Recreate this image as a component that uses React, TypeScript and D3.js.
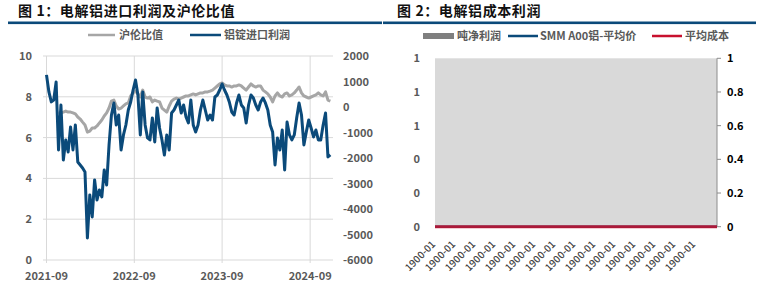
import React from "react";
import * as d3 from "d3";

// ---------- Chart 1 data (10-day samples from 2021-09-01) ----------
const startDate = "2021-09-01";
const stepDays = 10;
const importProfit = [
  1260, 590, 200, 275, 980, -1685, 80, -2077, -1293, -1763,
  -783, -1685, -705, -2155, -2273, -2390, -2547, -5134, -3449, -4311,
  -2861, -3645, -3253, -3527, -2469, -3057, -1489, -313, 158, -705,
  -313, -1685, -1097, -705, -117, 197, 667, 1059, 471, -1097,
  589, -705, -1214, -1293, -430, -1371, -38, -822, -1293, -1881,
  -1097, -1685, -234, -117, 79, 275, -234, 79, -391, -626,
  275, -705, -979, -705, -117, 275, -117, -509, -313, -509,
  393, 471, 667, 902, 667, 471, 197, -195, -313, 158,
  471, 79, -38, -626, 79, 471, 354, 79, -117, 197,
  354, 158, -117, -705, -979, -2273, -1214, -1685, -901, -2469,
  -587, -1097, -1293, -1097, -430, 158, -313, -1489, -979, -509,
  -822, -1175, -901, -1293, -1293, -705, -234, -1959, -1881,
];
const ratioStartIndex = 5;
const shLmeRatio = [
  7.25, 7.21, 7.25, 7.3, 7.25, 7.25, 7.21, 7.16, 7.01, 6.91,
  6.76, 6.62, 6.27, 6.32, 6.47, 6.47, 6.57, 6.72, 6.86, 7.06,
  7.21, 7.45, 7.79, 7.84, 7.55, 7.4, 7.45, 7.55, 7.65, 7.7,
  8.04, 8.19, 8.28, 8.14, 7.99, 8.33, 7.99, 7.94, 7.99, 7.75,
  7.84, 7.79, 7.75, 7.45, 7.35, 7.25, 7.55, 7.79, 7.89, 7.94,
  7.89, 7.94, 7.99, 8.04, 8.04, 8.09, 8.14, 8.09, 8.14, 8.19,
  8.19, 8.24, 8.24, 8.28, 8.33, 8.43, 8.53, 8.63, 8.68, 8.58,
  8.53, 8.53, 8.48, 8.53, 8.53, 8.58, 8.53, 8.43, 8.33, 8.48,
  8.63, 8.53, 8.48, 8.53, 8.53, 8.33, 8.24, 8.14, 7.99, 7.75,
  8.04, 8.19, 8.04, 7.99, 8.14, 8.19, 8.04, 8.09, 8.19, 8.33,
  8.48, 8.19, 8.04, 7.99, 7.94, 7.99, 8.04, 8.09, 8.19, 8.09,
  8.04, 8.24, 7.84, 7.79,
];
const yearTickLabels = ["2021-09", "2022-09", "2023-09", "2024-09"];
const ratioTicks = [0, 2, 4, 6, 8, 10];
const profitTicks = [-6000, -5000, -4000, -3000, -2000, -1000, 0, 1000, 2000];

// ---------- Chart 2 data ----------
const rightCategories = [
  "1900-01", "1900-01", "1900-01", "1900-01", "1900-01", "1900-01", "1900-01",
  "1900-01", "1900-01", "1900-01", "1900-01", "1900-01", "1900-01", "1900-01",
];
const netProfit = [0, 0, 0, 0, 0, 0, 0, 0, 0, 0, 0, 0, 0, 0];
const smmPrice = [0, 0, 0, 0, 0, 0, 0, 0, 0, 0, 0, 0, 0, 0];
const avgCost = [0, 0, 0, 0, 0, 0, 0, 0, 0, 0, 0, 0, 0, 0];
const rightTicks = [0, 0.2, 0.4, 0.6, 0.8, 1];

const FONT = "'Noto Sans CJK SC', 'Open Sans', sans-serif";
const BLUE = "#0b4a7a";
const GRAY = "#a6a6a6";
const GRID = "#d9d9d9";
const LABEL = "#595959";
const RED = "#c8102e";

export default function App() {
  const parse = d3.timeParse("%Y-%m-%d");
  const d0 = parse(startDate) as Date;
  const dates = importProfit.map((_, i) => d3.timeDay.offset(d0, i * stepDays));
  const x = d3
    .scaleTime()
    .domain([d0, parse("2024-12-05") as Date])
    .range([46.5, 333]);
  const yL = d3.scaleLinear().domain([0, 10]).range([260, 56]);
  const yR = d3.scaleLinear().domain([-6000, 2000]).range([260, 56]);
  const yearDates = yearTickLabels.map((s) => d3.timeParse("%Y-%m")(s) as Date);

  const profitLine = d3
    .line<number>()
    .x((_, i) => x(dates[i]))
    .y((v) => yR(v));
  const ratioLine = d3
    .line<number>()
    .x((_, i) => x(dates[i + ratioStartIndex]))
    .y((v) => yL(v));

  const xr = d3
    .scalePoint<number>()
    .domain(rightCategories.map((_, i) => i))
    .range([436, 696]);
  const xrLine = d3
    .scaleLinear()
    .domain([0, rightCategories.length - 1])
    .range([435, 717]);
  const y2 = d3.scaleLinear().domain([0, 1]).range([226.7, 58.3]);
  const fmt0 = d3.format(".0f");
  const lineR = d3
    .line<number>()
    .x((_, i) => xrLine(i))
    .y((v) => y2(v));

  return (
    <div style={{ position: "absolute", left: 0, top: 0 }}>
      <svg width={766} height={290} style={{ display: "block", background: "#fff" }} fontFamily={FONT}>
        {/* ===== Chart 1 ===== */}
        <text x={18} y={16} fontSize={14} fontWeight={700} fill="#111" letterSpacing={0.6}>
          图 1：电解铝进口利润及沪伦比值
        </text>
        <rect x={8} y={21.5} width={374} height={2.6} fill={BLUE} />

        <line x1={88} x2={115} y1={35} y2={35} stroke={GRAY} strokeWidth={2.5} />
        <text x={119} y={39} fontSize={11} fontWeight={700} fill={LABEL}>沪伦比值</text>
        <line x1={190} x2={221} y1={35} y2={35} stroke={BLUE} strokeWidth={2.5} />
        <text x={224} y={39} fontSize={11} fontWeight={700} fill={LABEL}>铝锭进口利润</text>

        {ratioTicks.map((t) => (
          <line key={"h" + t} x1={43} x2={333} y1={yL(t)} y2={yL(t)} stroke={GRID} strokeWidth={1} />
        ))}
        {yearDates.map((d, i) => (
          <line key={"v" + i} x1={x(d)} x2={x(d)} y1={56} y2={263} stroke={GRID} strokeWidth={1} />
        ))}

        {ratioTicks.map((t) => (
          <text key={"l" + t} x={32} y={yL(t) + 4} fontSize={11} fontWeight={700} fill={LABEL} textAnchor="end">
            {t}
          </text>
        ))}
        {profitTicks.map((t) => (
          <text key={"r" + t} x={343} y={yR(t) + 4} fontSize={11} fontWeight={700} fill={LABEL}>
            {t}
          </text>
        ))}
        {yearDates.map((d, i) => (
          <text key={"x" + i} x={x(d)} y={280} fontSize={11} fontWeight={700} fill={LABEL} textAnchor="middle">
            {yearTickLabels[i]}
          </text>
        ))}

        <path d={ratioLine(shLmeRatio) || ""} fill="none" stroke={GRAY} strokeWidth={3} strokeLinejoin="round" />
        <path d={profitLine(importProfit) || ""} fill="none" stroke={BLUE} strokeWidth={3} strokeLinejoin="round" />

        {/* ===== Chart 2 ===== */}
        <text x={397} y={16} fontSize={14} fontWeight={700} fill="#111" letterSpacing={0.6}>
          图 2：电解铝成本利润
        </text>
        <rect x={383} y={21.5} width={373} height={2.6} fill={BLUE} />

        <rect x={423} y={33} width={31} height={6} fill="#7f7f7f" />
        <text x={457} y={40} fontSize={11} fontWeight={700} fill={LABEL}>吨净利润</text>
        <line x1={508} x2={538} y1={36} y2={36} stroke={BLUE} strokeWidth={2.5} />
        <text x={540} y={40} fontSize={11} fontWeight={700} fill={LABEL}>SMM A00铝-平均价</text>
        <line x1={652} x2={682} y1={36} y2={36} stroke={RED} strokeWidth={2.5} />
        <text x={685} y={40} fontSize={11} fontWeight={700} fill={LABEL}>平均成本</text>

        <rect x={435} y={y2(1)} width={282} height={y2(0) - y2(1)} fill="#d9d9d9" />
        {netProfit.map((v, i) => (
          <rect key={"b" + i} x={xrLine(i) - 4} y={y2(Math.max(0, v))} width={8} height={Math.abs(y2(v) - y2(0))} fill="#7f7f7f" />
        ))}

        {rightTicks.map((t) => (
          <text key={"rl" + t} x={420} y={y2(t) + 4} fontSize={11} fontWeight={700} fill={LABEL} textAnchor="end">
            {fmt0(t)}
          </text>
        ))}
        <line x1={717} x2={717} y1={y2(1)} y2={y2(0)} stroke="#8c8c8c" strokeWidth={1} />
        {rightTicks.map((t) => (
          <g key={"rr" + t}>
            <line x1={717} x2={721} y1={y2(t)} y2={y2(t)} stroke="#8c8c8c" strokeWidth={1} />
            <text x={727} y={y2(t) + 4} fontSize={11} fontWeight={700} fill="#000">
              {d3.format("~g")(t)}
            </text>
          </g>
        ))}

        <path d={lineR(smmPrice) || ""} fill="none" stroke={BLUE} strokeWidth={2.5} />
        <path d={lineR(avgCost) || ""} fill="none" stroke={RED} strokeWidth={3} opacity={0.85} />

        {rightCategories.map((c, i) => (
          <text
            key={"c" + i}
            transform={`translate(${xr(i)},${245}) rotate(-45)`}
            fontSize={10}
            fontWeight={500}
            fill="#404040"
            textAnchor="end"
          >
            {c}
          </text>
        ))}
      </svg>
    </div>
  );
}
